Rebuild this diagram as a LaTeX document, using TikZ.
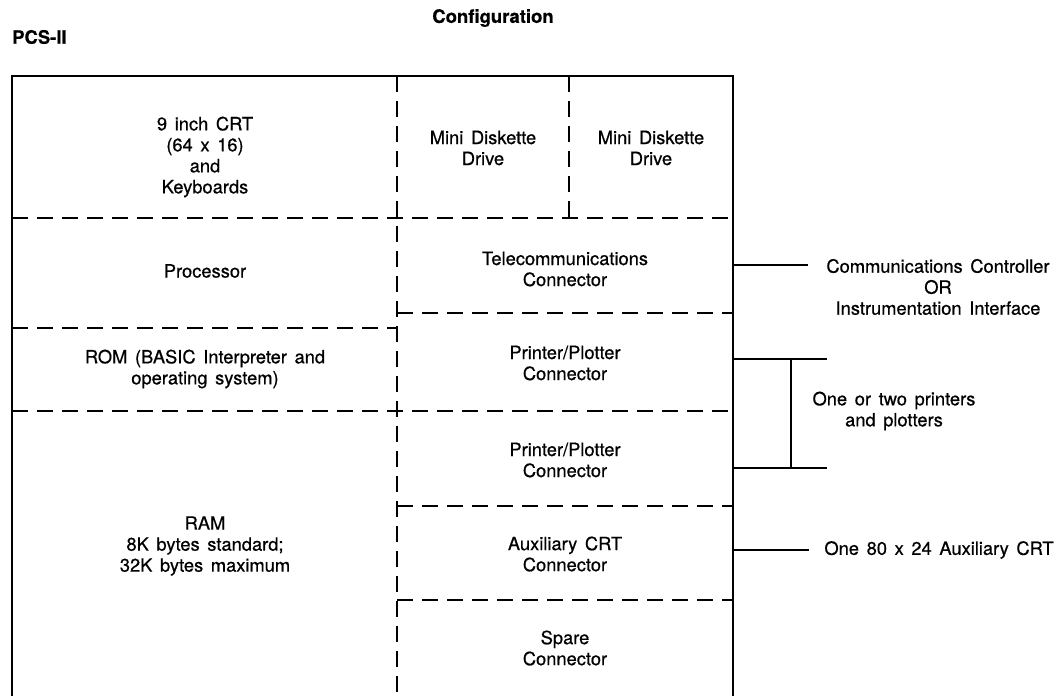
\documentclass[tikz,border=0pt]{standalone}
\usepackage{fontspec}
\setmainfont{TeX Gyre Heros}[WordSpace=1.5, RawFeature={embolden=0.6}]
\begin{document}
\begin{tikzpicture}[x=1pt,y=-1pt,
  txt/.style={font=\fontsize{18.3}{21}\selectfont, align=center, inner sep=0pt},
  ttl/.style={font=\fontsize{18.5}{22}\selectfont\bfseries, inner sep=0pt},
  dsh/.style={line width=1.8pt, dash pattern=on 16pt off 9pt},
  sld/.style={line width=1.9pt}]
\useasboundingbox (0,0) rectangle (1060,696);

% titles
\node[ttl] (title) at (493,18) {Configuration};
\node[ttl, anchor=west] (pcs) at (12,37) {PCS-II};

% outer frame (open at the bottom)
\coordinate (bl) at (12,696);
\coordinate (tl) at (12,76);
\coordinate (tr) at (733,76);
\coordinate (br) at (733,696);
\draw[sld] (bl) -- (tl) -- (tr) -- (br);

% internal dashed divisions
\draw[dsh] (397,76) -- (397,696);
\draw[dsh] (569,76) -- (569,218);
\draw[dsh] (12,218) -- (733,218);
\draw[dsh] (12,328) -- (397,328);
\draw[dsh] (397,313) -- (733,313);
\draw[dsh] (12,411) -- (733,411);
\draw[dsh] (397,506) -- (733,506);
\draw[dsh] (397,600) -- (733,600);

% block labels
\node[txt] (crt) at (205,157) {9 inch CRT\\(64 x 16)\\and\\Keyboards};
\node[txt] (md1) at (483,148) {Mini Diskette\\Drive};
\node[txt] (md2) at (651,148) {Mini Diskette\\Drive};
\node[txt] (proc) at (205,271) {Processor};
\node[txt] (rom) at (205,369) {ROM (BASIC Interpreter and\\operating system)};
\node[txt] (ram) at (205,546) {RAM\\8K bytes standard;\\32K bytes maximum};
\node[txt] (tel) at (565,269) {Telecommunications\\Connector};
\node[txt] (pp1) at (565,363) {Printer/Plotter\\Connector};
\node[txt] (pp2) at (565,460) {Printer/Plotter\\Connector};
\node[txt] (aux) at (565,554) {Auxiliary CRT\\Connector};
\node[txt] (spare) at (565,648) {Spare\\Connector};

% external devices
\node[txt] (comm) at (938,287) {Communications Controller\\OR\\Instrumentation Interface};
\node[txt] (prn) at (894,411) {One or two printers\\and plotters};
\node[txt] (auxcrt) at (939,550) {One 80 x 24 Auxiliary CRT};

% connectors
\coordinate (c1a) at (733,265); \coordinate (c1b) at (808,265);
\draw[sld] (c1a) -- (c1b);
\coordinate (p1a) at (733,359); \coordinate (p1b) at (827,359);
\coordinate (p2a) at (733,468); \coordinate (p2b) at (827,468);
\coordinate (pv1) at (791,359); \coordinate (pv2) at (791,468);
\draw[sld] (p1a) -- (p1b);
\draw[sld] (p2a) -- (p2b);
\draw[sld] (pv1) -- (pv2);
\coordinate (a1) at (733,550); \coordinate (a2) at (809,550);
\draw[sld] (a1) -- (a2);
\end{tikzpicture}
\end{document}
